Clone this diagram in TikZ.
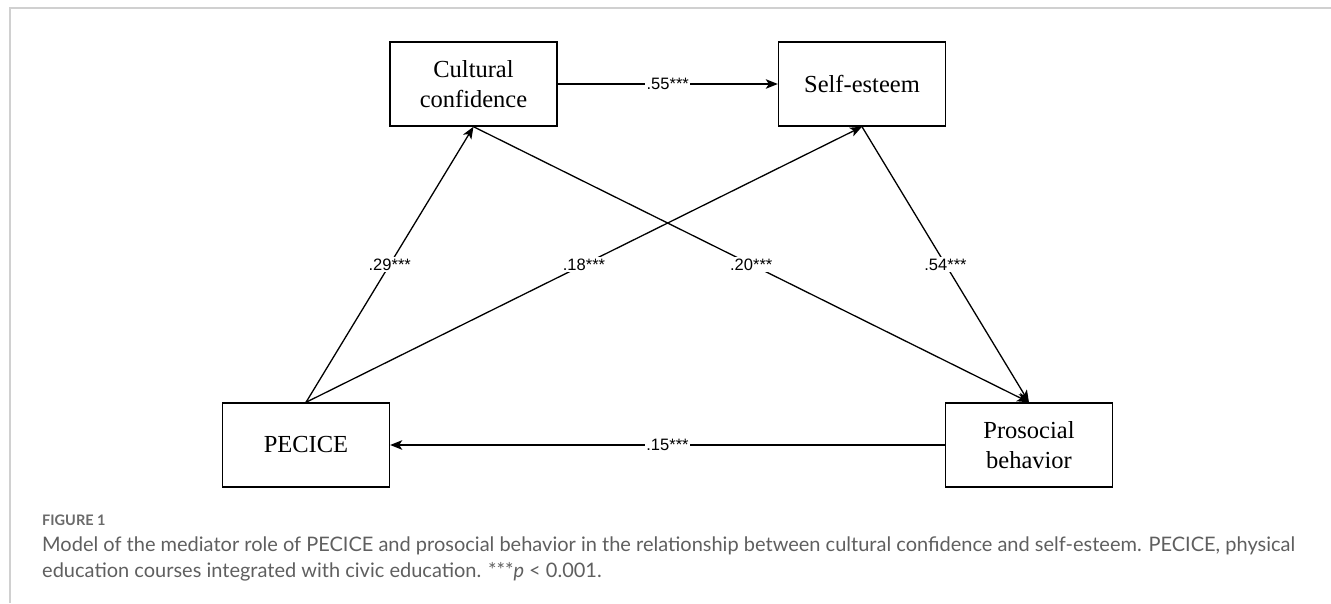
\documentclass[tikz,border=0pt]{standalone}
\usepackage{fontspec}
\setmainfont{Liberation Serif}
\newfontfamily\lblfont{Liberation Sans}
\newfontfamily\capfont{Lato}
\usetikzlibrary{arrows.meta}
\definecolor{framegray}{HTML}{D0D0D0}
\definecolor{capgray}{HTML}{5F5F5F}
\definecolor{figgray}{HTML}{6A6A6A}
\begin{document}
\begin{tikzpicture}[x=1pt,y=-1pt,
  box/.style={draw=black, line width=1.4pt, minimum width=167pt, minimum height=84pt,
    inner sep=0pt, align=center, font=\fontsize{24.5}{30}\selectfont},
  conn/.style={line width=1.3pt, -{Stealth[length=12pt,width=9.5pt,inset=3pt]}},
  lbl/.style={fill=white, inner sep=1.5pt, font=\lblfont\fontsize{16.5}{18}\selectfont},
  captext/.style={anchor=base west, inner sep=0pt, text=capgray, font=\capfont\fontsize{20}{22}\selectfont}]
\useasboundingbox (0,0) rectangle (1331,603);
\draw[line width=2pt, color=framegray] (10,603) -- (10,8) -- (1331,8);

\node[box] (cc) at (473.5,84) {Cultural\\confidence};
\node[box] (se) at (862,84) {Self-esteem};
\node[box] (pe) at (306,445) {PECICE};
\node[box] (pb) at (1029,445) {Prosocial\\behavior};

\draw[conn] (cc.east) -- node[lbl] (l55) {.55***} (se.west);
\draw[conn] (pe.north) -- node[lbl] (l29) {.29***} (cc.south);
\draw[conn] (pe.north) -- node[lbl] (l18) {.18***} (se.south);
\draw[conn] (cc.south) -- node[lbl] (l20) {.20***} (pb.north);
\draw[conn] (se.south) -- node[lbl] (l54) {.54***} (pb.north);
\draw[conn] (pb.west) -- node[lbl] (l15) {.15***} (pe.east);

\node[captext, text=figgray, font=\capfont\bfseries\fontsize{14.5}{16}\selectfont] (fig) at (42,525) {FIGURE 1};
\node[captext] (cap1) at (42,551) {Model of the mediator role of PECICE and prosocial behavior in the relationship between cultural confidence and self-esteem. PECICE, physical};
\node[captext] (cap2) at (42,577) {education courses integrated with civic education. ***{\itshape p} < 0.001.};
\end{tikzpicture}
\end{document}
